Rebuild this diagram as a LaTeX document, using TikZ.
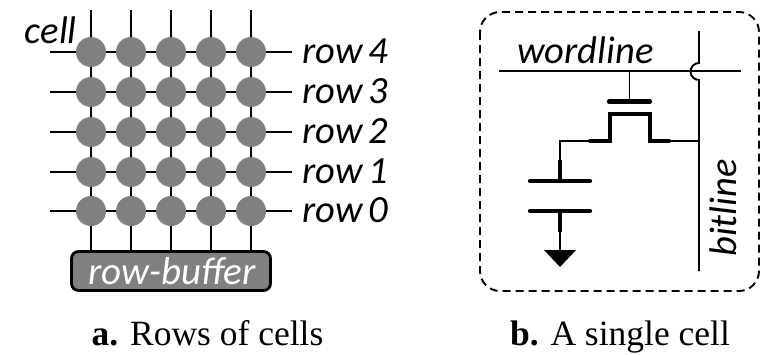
\documentclass[tikz,border=0pt]{standalone}
\usepackage{fontspec}
\setmainfont{Liberation Serif}
\newfontfamily\calf[WordSpace=0.7]{Carlito}
\usetikzlibrary{calc}
\tikzset{
  wire/.style={line width=2.8pt,black},
  thinw/.style={line width=1.9pt,black},
  thickw/.style={line width=4.2pt,black},
  cellc/.style={circle,fill=black!50,draw=none,minimum size=30pt,inner sep=0pt},
  lab/.style={font=\calf\itshape\fontsize{38.5}{40}\selectfont,inner sep=0pt,anchor=base west},
  captxt/.style={font=\fontsize{35.5}{37}\selectfont,inner sep=0pt,anchor=base},
  ptn/.style={inner sep=0pt,minimum size=0pt}
}
\begin{document}
\begin{tikzpicture}[x=1pt,y=-1pt]
\useasboundingbox (0,0) rectangle (770,354);
% row buffer
\node[draw=black,line width=2.8pt,fill=black!50,rounded corners=7pt,minimum width=199pt,minimum height=39pt,inner sep=0pt] (rb) at (171,271) {};
\node[font=\calf\itshape\fontsize{39}{40}\selectfont,white,inner sep=0pt,anchor=base] (rbt) at (172,284) {row-buffer};
% column ends
\foreach \c/\x in {1/91,2/131,3/171,4/211,5/251}{
  \coordinate (top\c) at (\x,10);
  \coordinate (bot\c) at (\x,250);
  \draw[wire] (top\c) -- (bot\c);
}
% rows
\foreach \r/\y/\n in {4/52/row 4,3/92/row 3,2/132/row 2,1/172/row 1,0/211/row 0}{
  \coordinate (l\r) at (50,\y);
  \coordinate (r\r) at (292,\y);
  \draw[wire] (l\r) -- (r\r);
  \foreach \c/\x in {1/91,2/131,3/171,4/211,5/251}{
    \node[cellc] (c\c\r) at (\x,\y) {};
  }
  \node[lab] (t\r) at (302,\y+11) {\n};
}
\node[lab,anchor=base east] (cellt) at (77,43) {cell};
\node[captxt] (capa) at (207.5,345) {\textbf{a.} Rows of cells};
% single cell
\draw[dash pattern=on 8pt off 5pt,line width=1.9pt,rounded corners=20pt] (480,12) rectangle (759,291);
\node[lab,anchor=base] (wl) at (585.5,63) {wordline};
\node[lab,rotate=90,anchor=base] (bl) at (736,208) {bitline};
\coordinate (wl1) at (499,71);
\coordinate (wl2) at (741,71);
\coordinate (wg) at (629.5,71);
\draw[thinw] (wl1) -- (wl2);
\coordinate (blt) at (699,31);
\coordinate (blb) at (699,271);
\coordinate (jn) at (699,141);
\draw[thinw] (blt) -- (699,63) arc[start angle=90,end angle=270,radius=8.5pt] -- (blb);
\node[ptn] (gate) at (629.5,101.5) {};
\draw[thinw] (wg) -- (gate);
\draw[thickw,line cap=round] (609,101.5) -- (650,101.5);
\coordinate (sl) at (590,141);
\coordinate (sr) at (669,141);
\draw[thickw,line cap=round,line join=miter] (sl) -- (610,141) -- (610,114) -- (650,114) -- (650,141) -- (sr);
\draw[thinw] (sr) -- (jn);
\coordinate (capt) at (560,160);
\coordinate (plate1) at (560,181);
\coordinate (plate2) at (560,211);
\coordinate (capb) at (560,232);
\coordinate (gnd) at (560,251);
\draw[thinw] (sl) -- (560,141) -- (capt);
\draw[thickw] (capt) -- (plate1);
\draw[thickw,line cap=round] (530,181) -- (590,181);
\draw[thickw,line cap=round] (530,211) -- (590,211);
\draw[thickw] (plate2) -- (capb);
\draw[line width=2.8pt] (capb) -- (gnd);
\fill (544,250) -- (576,250) -- (560,267) -- cycle;
\node[captxt] (capb2) at (620,345) {\textbf{b.} A single cell};
\end{tikzpicture}
\end{document}
